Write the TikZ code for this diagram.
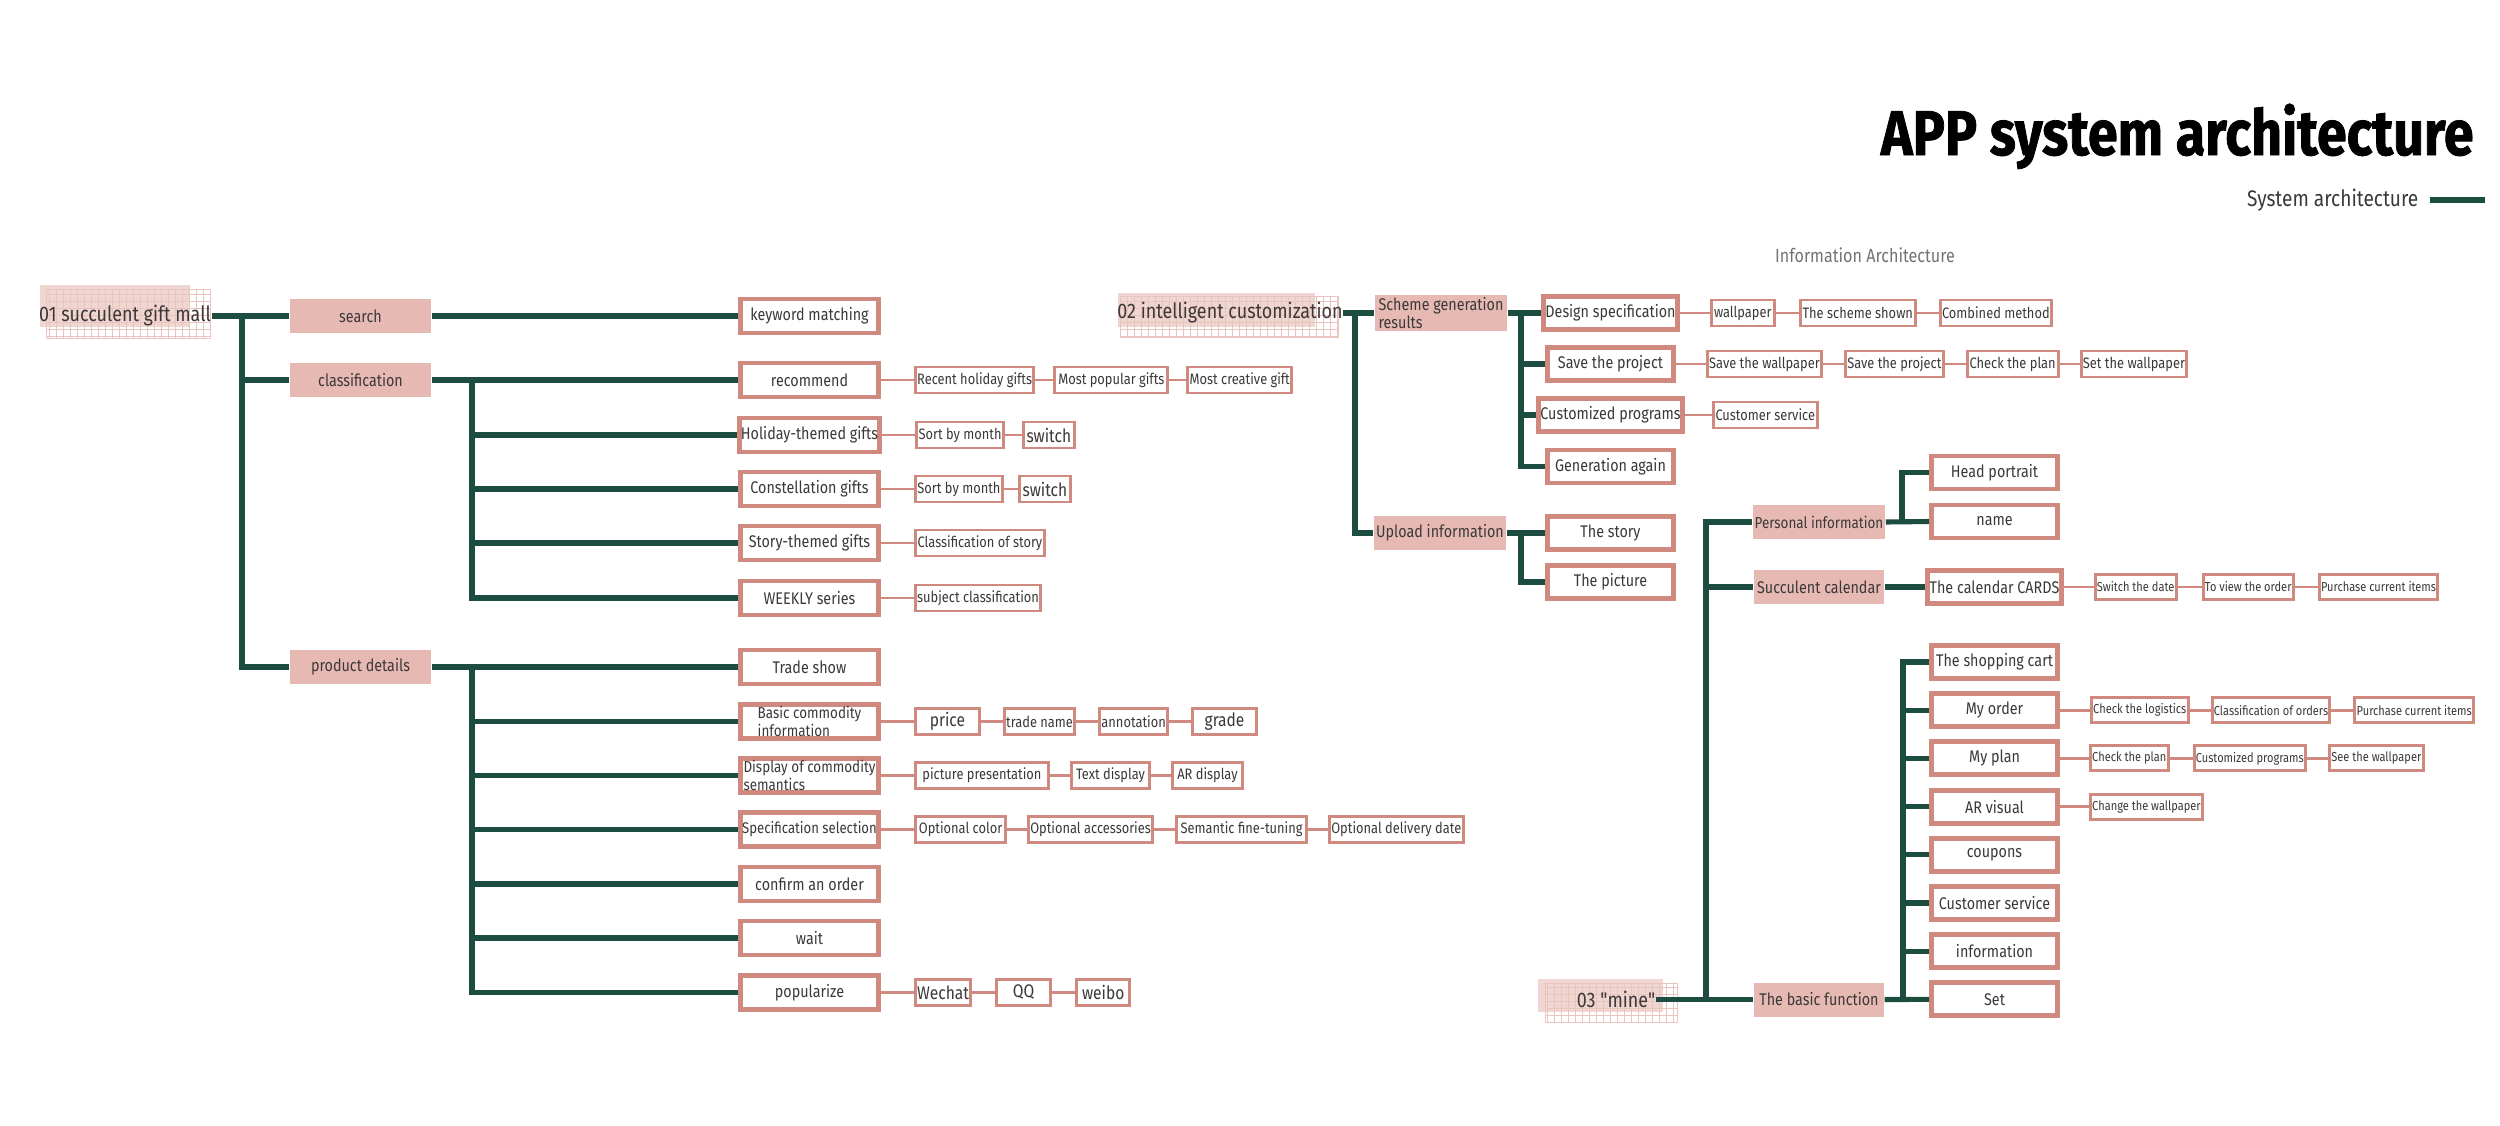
\documentclass[tikz,border=0pt]{standalone}
\usepackage{fontspec}
\setmainfont{Fira Sans}[FakeStretch=0.85]
\newfontfamily\titlefont{Fira Sans}[FakeStretch=0.85,BoldFeatures={FakeBold=1.2}]
\usetikzlibrary{positioning}
\definecolor{treegreen}{HTML}{1D4D40}
\definecolor{rosefill}{HTML}{E6BAB3}
\definecolor{roseline}{HTML}{D0897F}
\definecolor{inktext}{HTML}{3C3838}
\tikzset{
  trunk/.style={line width=1.45pt,treegreen},
  thread/.style={line width=0.75pt,roseline},
  cat/.style={fill=rosefill,minimum width=1.41cm,minimum height=0.34cm,inner sep=0.5pt,
    font=\fontsize{4.8}{5.2}\selectfont,text=inktext},
  item/.style={draw=roseline,line width=1.4pt,fill=white,minimum width=1.38cm,minimum height=0.34cm,
    inner sep=0.5pt,font=\fontsize{4.8}{5.2}\selectfont,text=inktext},
  leaf/.style={draw=roseline,line width=0.85pt,fill=white,minimum height=0.26cm,inner sep=0.5pt,
    font=\fontsize{4.3}{5}\selectfont,text=inktext},
  leafb/.style={leaf,font=\fontsize{5.2}{6}\selectfont},  % the few larger ones
  leafs/.style={leaf,minimum height=0.25cm,font=\fontsize{3.7}{4.5}\selectfont},
  rootlbl/.style={font=\fontsize{6}{7}\selectfont,text=inktext,inner sep=0pt},
  patch/.style={fill=rosefill!60},
  patchgrid/.style={draw=rosefill!85,line width=0.2pt,step=0.07},
}
\begin{document}
\begin{tikzpicture}
  \useasboundingbox (0,0) rectangle (25,-11.26);
  % ---- heading ----
  \node[anchor=base east,font=\titlefont\fontsize{18}{19}\selectfont\bfseries] (title) at (24.86,-1.55) {APP system architecture};
  \node[anchor=east,font=\fontsize{6.4}{7}\selectfont,text=inktext,inner sep=0pt] (sysarch) at (24.19,-2.00) {System architecture};
  \coordinate (sysend) at (24.85,-2.00);
  \draw[trunk] ([xshift=0.11cm]sysarch.east) -- (sysend);
  \node[font=\fontsize{5.4}{6}\selectfont,text=black!55] (infoarch) at (18.65,-2.55) {Information Architecture};
  % ---- pink squared patches behind the three roots ----
  \foreach \a/\b/\c/\d in {0.40/2.85/1.90/3.27, 11.18/2.93/13.15/3.27, 15.38/9.79/16.63/10.12}
    \fill[patch] (\a,-\b) rectangle (\c,-\d);
  \foreach \a/\b/\c/\d in {0.46/2.89/2.10/3.38, 11.20/2.96/13.38/3.37, 15.45/9.83/16.77/10.22}
    \draw[patchgrid] (\a,-\b) rectangle (\c,-\d) (\a,-\b) grid (\c,-\d);

  % ==== 01 succulent gift mall ====
  \node[rootlbl] (mall) at (1.25,-3.16) {01 succulent gift mall};
  \node[cat] (search) at (3.605,-3.16) {search};
  \node[cat] (classif) at (3.605,-3.80) {classification};
  \node[cat] (details) at (3.605,-6.67) {product details};
  \coordinate (j1) at (2.42,-3.16);
  \draw[trunk] (mall.east) -- (search.west);
  \draw[trunk] (j1) |- (classif.west);
  \draw[trunk] (j1) |- (details.west);
  % second level
  \node[item] (kw) at (8.095,-3.16) {keyword matching};
  \node[item] (rec) at (8.095,-3.80) {recommend};
  \foreach \n/\y/\t in {hol/4.35/Holiday-themed gifts, con/4.89/Constellation gifts,
      sto/5.43/Story-themed gifts, wee/5.98/WEEKLY series}
    \node[item] (\n) at (8.095,-\y) {\t};
  \node[item] (trade) at (8.095,-6.67) {Trade show};
  \node[item,align=left,font=\fontsize{4.5}{5}\selectfont] (basic) at (8.095,-7.215) {Basic commodity\\information};
  \node[item,align=left,font=\fontsize{4.5}{5}\selectfont] (display) at (8.095,-7.755) {Display of commodity\\semantics};
  \node[item,font=\fontsize{4.4}{5}\selectfont] (spec) at (8.095,-8.295) {Specification selection};
  \node[item] (confirm) at (8.095,-8.84) {confirm an order};
  \node[item] (wait) at (8.095,-9.38) {wait};
  \node[item] (popular) at (8.095,-9.925) {popularize};
  \draw[trunk] (search.east) -- (kw.west);
  \draw[trunk] (classif.east) -- (rec.west);
  \coordinate (j2) at (4.72,-3.80);
  \foreach \n in {hol,con,sto,wee} \draw[trunk] (j2) |- (\n.west);
  \draw[trunk] (details.east) -- (trade.west);
  \coordinate (j3) at (4.72,-6.67);
  \foreach \n in {basic,display,spec,confirm,wait,popular} \draw[trunk] (j3) |- (\n.west);
  % third level
  \node[leaf,minimum width=1.13cm,right=0.33cm of rec] (rec1) {Recent holiday gifts};
  \node[leaf,minimum width=1.13cm,right=0.18cm of rec1] (rec2) {Most popular gifts};
  \node[leaf,minimum width=1.03cm,right=0.17cm of rec2] (rec3) {Most creative gift};
  \draw[thread] (rec) -- (rec1) -- (rec2) -- (rec3);
  \node[leaf,minimum width=0.84cm,right=0.33cm of hol] (hol1) {Sort by month};
  \node[leafb,minimum width=0.51cm,right=0.17cm of hol1] (hol2) {switch};
  \draw[thread] (hol) -- (hol1) -- (hol2);
  \node[leaf,minimum width=0.87cm,right=0.33cm of con] (con1) {Sort by month};
  \node[leafb,minimum width=0.51cm,right=0.14cm of con1] (con2) {switch};
  \draw[thread] (con) -- (con1) -- (con2);
  \node[leaf,minimum width=1.29cm,right=0.33cm of sto] (sto1) {Classification of story};
  \draw[thread] (sto) -- (sto1);
  \node[leaf,minimum width=1.25cm,right=0.33cm of wee] (wee1) {subject classification};
  \draw[thread] (wee) -- (wee1);
  \node[leafb,minimum width=0.64cm,right=0.33cm of basic] (bas1) {price};
  \node[leaf,minimum width=0.68cm,right=0.22cm of bas1] (bas2) {trade name};
  \node[leaf,minimum width=0.66cm,right=0.22cm of bas2] (bas3) {annotation};
  \node[leafb,minimum width=0.64cm,right=0.22cm of bas3] (bas4) {grade};
  \draw[thread] (basic) -- (bas1) -- (bas2) -- (bas3) -- (bas4);
  \node[leaf,minimum width=1.33cm,right=0.33cm of display] (dis1) {picture presentation};
  \node[leaf,minimum width=0.78cm,right=0.20cm of dis1] (dis2) {Text display};
  \node[leaf,minimum width=0.70cm,right=0.20cm of dis2] (dis3) {AR display};
  \draw[thread] (display) -- (dis1) -- (dis2) -- (dis3);
  \node[leaf,minimum width=0.90cm,right=0.33cm of spec] (spe1) {Optional color};
  \node[leaf,minimum width=1.23cm,right=0.20cm of spe1] (spe2) {Optional accessories};
  \node[leaf,minimum width=1.30cm,right=0.21cm of spe2] (spe3) {Semantic fine-tuning};
  \node[leaf,minimum width=1.27cm,right=0.20cm of spe3] (spe4) {Optional delivery date};
  \draw[thread] (spec) -- (spe1) -- (spe2) -- (spe3) -- (spe4);
  \node[leafb,minimum width=0.53cm,right=0.33cm of popular] (pop1) {Wechat};
  \node[leafb,minimum width=0.54cm,right=0.23cm of pop1] (pop2) {QQ};
  \node[leafb,minimum width=0.53cm,right=0.23cm of pop2] (pop3) {weibo};
  \draw[thread] (popular) -- (pop1) -- (pop2) -- (pop3);

  % ==== 02 intelligent customization ====
  \node[rootlbl] (custom) at (12.30,-3.13) {02 intelligent customization};
  \node[cat,minimum width=1.32cm,align=left] (scheme) at (14.41,-3.13) {Scheme generation\\results};
  \node[cat,minimum width=1.32cm] (upload) at (14.40,-5.33) {Upload information};
  \coordinate (j4) at (13.55,-3.13);
  \draw[trunk] (custom.east) -- (scheme.west);
  \draw[trunk] (j4) |- (upload.west);
  \foreach \n/\y/\t in {design/3.13/Design specification, save/3.64/Save the project,
      custp/4.15/Customized programs, again/4.665/Generation again,
      story/5.33/The story, pict/5.82/The picture}
    \node[item,minimum width=1.26cm,minimum height=0.33cm] (\n) at (16.105,-\y) {\t};
  \draw[trunk] (scheme.east) -- (design.west);
  \coordinate (j5) at (15.21,-3.13);
  \foreach \n in {save,custp,again} \draw[trunk] (j5) |- (\n.west);
  \draw[trunk] (upload.east) -- (story.west);
  \coordinate (j6) at (15.21,-5.33);
  \draw[trunk] (j6) |- (pict.west);
  \node[leaf,minimum width=0.63cm,right=0.30cm of design] (des1) {wallpaper};
  \node[leaf,minimum width=1.15cm,right=0.23cm of des1] (des2) {The scheme shown};
  \node[leaf,minimum width=1.10cm,right=0.22cm of des2] (des3) {Combined method};
  \draw[thread] (design) -- (des1) -- (des2) -- (des3);
  \node[leaf,minimum width=1.13cm,right=0.30cm of save] (sav1) {Save the wallpaper};
  \node[leaf,minimum width=0.96cm,right=0.21cm of sav1] (sav2) {Save the project};
  \node[leaf,minimum width=0.91cm,right=0.21cm of sav2] (sav3) {Check the plan};
  \node[leaf,minimum width=1.04cm,right=0.20cm of sav3] (sav4) {Set the wallpaper};
  \draw[thread] (save) -- (sav1) -- (sav2) -- (sav3) -- (sav4);
  \node[leaf,minimum width=1.04cm,right=0.27cm of custp] (cus1) {Customer service};
  \draw[thread] (custp) -- (cus1);

  % ==== 03 "mine" ====
  \node[rootlbl] (mine) at (16.16,-9.995) {\addfontfeatures{Ligatures=TeXOff}03 "mine"};
  \node[cat,minimum width=1.30cm,font=\fontsize{4.5}{5}\selectfont] (personal) at (18.19,-5.22) {Personal information};
  \node[cat,minimum width=1.30cm] (calendar) at (18.19,-5.87) {Succulent calendar};
  \node[cat,minimum width=1.30cm] (basicfn) at (18.19,-9.995) {The basic function};
  \coordinate (j7) at (17.06,-9.995);
  \draw[trunk] (mine.east) -- (basicfn.west);
  \draw[trunk] (j7) |- (personal.west);
  \draw[trunk] (j7) |- (calendar.west);
  \node[item,minimum width=1.26cm,minimum height=0.33cm] (head) at (19.945,-4.725) {Head portrait};
  \node[item,minimum width=1.26cm,minimum height=0.33cm] (name) at (19.945,-5.215) {name};
  \node[item,minimum width=1.26cm,minimum height=0.33cm] (cards) at (19.945,-5.87) {The calendar CARDS};
  \foreach \n/\t [count=\i from 0] in {cart/The shopping cart, order/My order, plan/My plan,
      arv/AR visual, coupons/coupons, service/Customer service, info/information, set/Set}
    \node[item,minimum width=1.26cm,minimum height=0.33cm] (\n) at (19.945,-6.62-0.482*\i) {\t};
  \draw[trunk] (personal.east) -- (name.west);
  \coordinate (j8) at (19.02,-5.215);
  \draw[trunk] (j8) |- (head.west);
  \draw[trunk] (calendar.east) -- (cards.west);
  \draw[trunk] (basicfn.east) -- (set.west);
  \coordinate (j9) at (19.03,-9.995);
  \foreach \n in {cart,order,plan,arv,coupons,service,info} \draw[trunk] (j9) |- (\n.west);
  \node[leafs,minimum width=0.76cm,right=0.30cm of cards] (car1) {Switch the date};
  \node[leafs,minimum width=0.85cm,right=0.24cm of car1] (car2) {To view the order};
  \node[leafs,minimum width=1.16cm,right=0.23cm of car2] (car3) {Purchase current items};
  \draw[thread] (cards) -- (car1) -- (car2) -- (car3);
  \node[leafs,minimum width=0.95cm,right=0.30cm of order] (ord1) {Check the logistics};
  \node[leafs,minimum width=1.16cm,right=0.21cm of ord1] (ord2) {Classification of orders};
  \node[leafs,minimum width=1.17cm,right=0.22cm of ord2] (ord3) {Purchase current items};
  \draw[thread] (order) -- (ord1) -- (ord2) -- (ord3);
  \node[leafs,minimum width=0.77cm,right=0.29cm of plan] (pla1) {Check the plan};
  \node[leafs,minimum width=1.11cm,right=0.23cm of pla1] (pla2) {Customized programs};
  \node[leafs,minimum width=0.91cm,right=0.21cm of pla2] (pla3) {See the wallpaper};
  \draw[thread] (plan) -- (pla1) -- (pla2) -- (pla3);
  \node[leafs,minimum width=1.07cm,right=0.29cm of arv] (arv1) {Change the wallpaper};
  \draw[thread] (arv) -- (arv1);
\end{tikzpicture}
\end{document}
